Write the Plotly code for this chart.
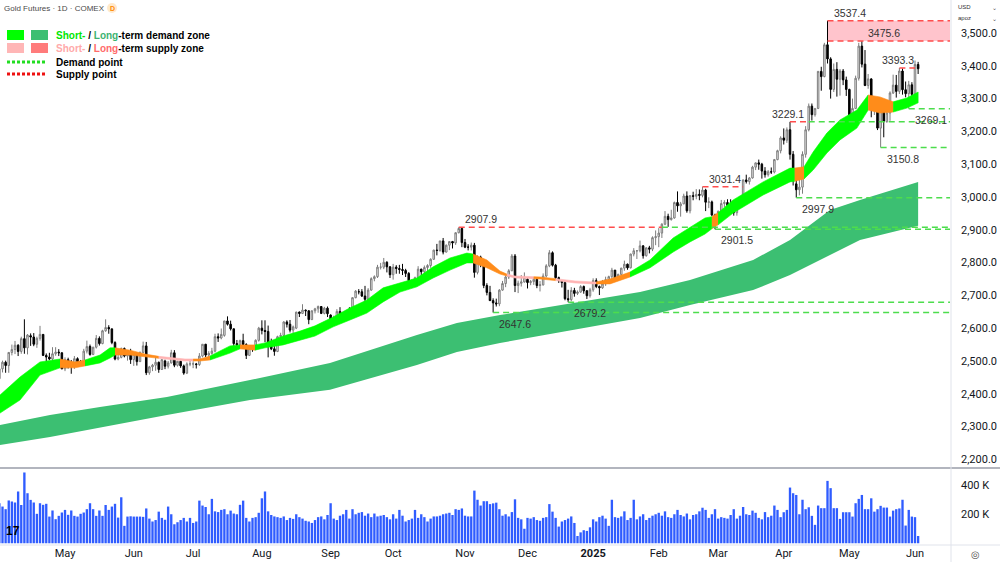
import plotly.graph_objects as go
import pandas as pd

# ---------------- categories (trading days) ----------------
HOLIDAYS = ["2024-05-27", "2024-06-19", "2024-07-04", "2024-09-02", "2024-11-28",
            "2024-12-25", "2025-01-01", "2025-01-20", "2025-02-17", "2025-04-18", "2025-05-26"]
dates = [d for d in pd.bdate_range("2024-04-01", "2025-06-03") if d.strftime("%Y-%m-%d") not in HOLIDAYS]

# ---------------- OHLC ----------------
open_ = [
    2426,2446,2476,2496,2486,2526,2535,2548,2529,2568,2540,2577,2573,2551,2569,2581,2517,2512,2506,2522,2527,2525,
    2476,2504,2487,2485,2507,2498,2493,2530,2544,2520,2542,2569,2553,2592,2602,2598,2556,2506,2511,2538,2515,2520,
    2504,2521,2498,2526,2546,2464,2482,2487,2496,2474,2500,2484,2494,2525,2487,2499,2485,2463,2491,
    2491,2491,2489,2515,2551,2518,2523,2530,2574,2570,2578,2622,2612,2598,2553,2549,2562,2550,2517,2539,2537,2563,
    2600,2593,2590,2557,2537,2529,2574,2578,2619,2612,2594,2600,2649,2645,2655,2653,2626,2653,2659,2666,2645,2661,
    2640,2628,2630,2651,2632,2641,2651,2647,2693,2711,2711,2698,2688,2716,2751,2757,2786,2786,2801,2787,
    2763,2786,2782,2779,2776,2767,2745,2731,2754,2780,2772,2785,2791,2810,2838,2837,2866,2832,2853,2864,2860,2891,2904,
    2861,2847,2847,2853,2770,2817,2796,2730,2709,2684,2677,2674,2716,2736,2756,2775,2820,2730,2737,2741,
    2749,2739,2742,2749,2730,2732,2759,2790,2830,2792,2754,2745,2739,2690,2687,2715,2706,2710,2727,2714,2699,
    2717,2745,2727,2723,2735,2748,2757,2777,2749,2764,2783,2795,2784,2826,2836,2836,2851,2821,2845,2841,2876,
    2879,2890,2917,2941,2931,2936,2983,2973,2979,3003,2958,3004,3002,3008,3005,3021,2984,2985,2945,
    2926,2956,2980,2983,2974,2973,2952,2979,2997,3052,3047,3058,3091,3104,3100,3079,3068,3077,3076,3114,3141,
    3180,3173,3205,3130,3040,3022,3030,3130,3205,3277,3251,3270,3383,3367,3464,3421,3328,3389,3359,3384,3357,
    3328,3250,3270,3362,3460,3405,3340,3360,3270,3282,3210,3268,3230,3256,3317,3341,3322,3384,3327,3315,3342,
    3313,3404]
high = [
    2462,2478,2501,2501,2526,2550,2561,2551,2574,2627,2582,2584,2585,2574,2607,2582,2523,2525,2542,2542,2536,2526,
    2511,2510,2503,2515,2511,2503,2537,2562,2550,2543,2579,2575,2595,2627,2609,2598,2560,2518,2541,2541,2528,2537,
    2525,2524,2529,2559,2558,2485,2491,2513,2498,2506,2504,2500,2534,2533,2500,2501,2489,2496,2504,
    2499,2494,2524,2551,2552,2530,2540,2583,2584,2599,2622,2636,2623,2599,2564,2565,2583,2554,2543,2545,2566,2604,
    2624,2624,2608,2568,2548,2577,2586,2621,2624,2625,2608,2650,2651,2673,2657,2655,2654,2662,2669,2667,2665,2666,
    2642,2638,2658,2664,2642,2653,2664,2694,2716,2719,2719,2729,2722,2755,2761,2793,2799,2814,2804,2789,
    2796,2792,2793,2796,2781,2771,2748,2757,2789,2781,2791,2795,2813,2839,2857,2866,2875,2855,2865,2866,2892,2907.9,2906,
    2872,2856,2861,2860,2822,2821,2797,2737,2729,2691,2690,2719,2744,2761,2780,2826,2826,2745,2762,2770,
    2755,2747,2756,2754,2744,2767,2795,2838,2834,2796,2757,2747,2743,2717,2725,2723,2715,2731,2730,2716,2723,
    2752,2752,2730,2747,2757,2760,2784,2777,2766,2784,2806,2797,2827,2844,2838,2867,2853,2846,2851,2880,2898,
    2905,2920,2957,2949,2961,2986,3017,2985,3010,3017,3006,3016,3024,3023,3031.4,3025,2999,2989,2949,
    2959,2991,2990,2993,2993,2977,2984,3003,3053,3068,3061,3095,3105,3114,3104,3091,3082,3090,3116,3144,3185,
    3209,3212,3229.1,3140,3065,3063,3139,3216,3285,3285,3270,3384,3397,3470,3537.4,3426,3407,3411,3390,3390,3367,
    3330,3300,3370,3470,3475.6,3448,3375,3362,3300,3288,3275,3280,3277,3322,3373,3372,3393.3,3392,3352,3354,3350,
    3416,3412]
low = [
    2424,2437,2465,2464,2464,2517,2521,2515,2522,2522,2520,2546,2545,2540,2562,2515,2481,2503,2497,2516,2515,2475,
    2469,2477,2461,2476,2490,2488,2490,2523,2516,2518,2538,2547,2551,2589,2583,2551,2502,2502,2508,2511,2501,2491,
    2485,2486,2497,2524,2457,2458,2469,2470,2464,2473,2475,2477,2492,2481,2483,2479,2458,2460,2484,
    2478,2477,2485,2511,2512,2510,2519,2526,2558,2566,2574,2608,2593,2546,2537,2538,2545,2506,2515,2528,2533,2559,
    2581,2557,2511,2533,2516,2527,2562,2572,2602,2587,2578,2597,2634,2643,2637,2612,2625,2645,2647,2643,2642,2634,
    2607,2611,2626,2620,2621,2635,2635,2646,2691,2703,2695,2675,2676,2714,2743,2753,2779,2780,2770,2753,
    2748,2766,2766,2762,2756,2727,2727,2726,2747,2761,2761,2771,2784,2809,2822,2833,2825,2831,2838,2843,2854,2889,2847,
    2844,2837,2837,2754,2764,2786,2722,2700,2683,2647.6,2666,2667,2714,2725,2750,2774,2710,2707,2727,2739,
    2721,2731,2732,2722,2712,2730,2755,2786,2788,2750,2738,2724,2685,2679.2,2682,2696,2701,2708,2705,2689,2693,
    2711,2722,2701,2720,2729,2742,2745,2743,2747,2757,2775,2778,2782,2819,2811,2831,2812,2818,2828,2835,2853,
    2847,2875,2914,2909,2928,2934,2955,2940,2978,2952,2950,2990,2993,2990,2999,2957,2966,2942,2901.5,
    2921,2943,2969,2957,2961,2943,2943,2968,2995,3041,3038,3056,3082,3083,3056,3059,3062,3070,3072,3112,3133,
    3160,3165,3114,3035,2997.9,3005,3010,3120,3200,3233,3245,3268,3324,3365,3407,3300,3320,3306,3309,3341,3308,
    3235,3243,3268,3355,3395,3338,3330,3243,3250,3204,3150.8,3182,3226,3232,3314,3303,3314,3312,3304,3269.1,3295,
    3310,3375]
close = [
    2446,2476,2496,2486,2526,2535,2548,2529,2568,2540,2579,2573,2551,2569,2581,2517,2512,2506,2522,2527,2525,2476,
    2504,2487,2485,2507,2498,2493,2530,2544,2520,2542,2569,2553,2592,2602,2598,2556,2506,2511,2538,2515,2520,2504,
    2521,2498,2526,2546,2464,2482,2487,2496,2474,2504,2484,2494,2525,2487,2499,2485,2463,2491,2491,
    2491,2489,2515,2551,2518,2523,2530,2574,2570,2581,2622,2612,2598,2553,2549,2562,2550,2517,2539,2537,2563,2600,
    2593,2590,2557,2537,2529,2574,2578,2619,2612,2594,2604,2649,2645,2655,2653,2626,2653,2659,2666,2645,2661,2644,
    2628,2630,2651,2632,2641,2651,2647,2693,2713,2711,2698,2688,2716,2751,2757,2786,2786,2801,2787,2763,
    2786,2782,2779,2776,2767,2745,2731,2754,2780,2772,2785,2791,2810,2838,2837,2866,2832,2853,2864,2860,2891,2904,2861,
    2847,2847,2853,2770,2817,2796,2730,2709,2684,2677,2674,2716,2736,2756,2775,2820,2730,2737,2741,2755,
    2739,2742,2749,2730,2732,2759,2790,2830,2792,2754,2745,2739,2690,2687,2715,2706,2710,2727,2714,2699,2717,
    2745,2727,2723,2735,2748,2757,2777,2749,2764,2783,2795,2784,2826,2836,2836,2851,2821,2845,2841,2876,2879,
    2890,2917,2941,2931,2936,2983,2973,2979,3003,2958,3004,3002,3008,3005,3021,2984,2985,2945,2926,
    2956,2980,2983,2974,2973,2952,2979,2997,3052,3047,3058,3091,3104,3100,3079,3068,3077,3076,3114,3141,3180,
    3173,3205,3130,3052,3022,3030,3130,3205,3277,3251,3270,3383,3367,3464,3421,3328,3389,3359,3384,3357,3328,
    3250,3270,3362,3460,3405,3340,3360,3270,3282,3210,3268,3230,3256,3317,3341,3322,3384,3327,3315,3342,3313,
    3404,3391]
volume_k = [
    260,276,253,235,295,288,281,357,264,488,345,299,281,203,276,265,272,184,226,166,189,212,
    230,196,226,189,184,203,212,235,276,235,189,226,189,264,230,253,272,177,317,120,184,186,
    184,184,184,182,240,170,150,160,218,175,162,253,200,131,145,160,175,150,175,
    140,150,294,260,250,200,306,220,215,230,235,200,225,205,200,265,294,175,150,175,180,210,
    310,357,220,195,185,180,175,185,160,175,168,200,180,170,155,150,140,160,180,185,165,195,
    276,170,160,190,200,230,170,235,200,210,215,190,205,180,205,185,190,195,180,165,
    200,170,230,190,150,160,170,230,175,200,180,150,170,185,185,190,200,205,210,195,235,230,240,
    190,185,185,363,300,260,290,290,270,275,280,235,190,200,185,215,303,175,165,100,
    175,170,180,160,155,175,180,270,218,175,115,150,160,170,185,140,50,75,90,85,110,
    165,150,180,190,170,120,300,180,175,185,220,160,175,300,165,185,200,160,175,190,200,
    210,190,220,180,175,200,230,195,185,205,165,195,200,220,245,230,175,200,235,
    170,180,175,170,195,235,170,190,250,200,195,225,210,175,165,215,180,190,260,230,180,
    214,230,384,345,333,200,300,235,248,189,127,260,242,242,430,380,242,242,168,214,214,
    214,184,276,306,333,235,235,310,218,235,258,246,246,184,225,235,240,300,122,230,184,
    180,50]

n = len(dates)
for arr in (open_, high, low, close, volume_k):
    assert len(arr) == n, (len(arr), n)
xi = list(range(n))

# ---------------- short-term demand zone (band edges) ----------------
st_idx = [1.2, 7.6, 14.0, 20.4, 25.2, 28.4, 33.2, 36.4, 38.0, 42.8, 47.6, 52.0, 54.0, 60.4, 63.0, 65.2,
          68.4, 74.8, 78.0, 82.8, 86.0, 91.8, 97.2, 102.0, 107.8, 113.2, 118.6, 123.8, 129.2, 134.6, 139.8,
          145.2, 150.6, 152.6, 157.0, 161.2, 163.4, 166.0, 172.0, 174.0, 179.0, 185.2, 191.0, 192.0, 196.4,
          202.8, 209.2, 216.6, 222.0, 226.8, 229.0, 231.0, 235.8, 245.4, 254.0, 255.5, 258.5, 261.4, 265.8,
          270.0, 275.4, 279.0, 282.8, 287.0, 291.4, 295.0]
st_top = [2396, 2451, 2497, 2506, 2497, 2503, 2518, 2540, 2540, 2533, 2521, 2514, 2512, 2506, 2506, 2506,
          2515, 2546, 2549, 2549, 2555, 2576, 2591, 2607, 2634, 2662, 2686, 2723, 2738, 2753, 2787,
          2814, 2829, 2826, 2808, 2774, 2765, 2759, 2757, 2756, 2751, 2744, 2741, 2741, 2750,
          2771, 2808, 2875, 2908, 2936, 2940, 2952, 2991, 3046, 3088, 3088, 3092, 3137, 3195,
          3235, 3265, 3311, 3305, 3290, 3302, 3320]
st_bot = [2341, 2381, 2457, 2479, 2479, 2485, 2494, 2509, 2518, 2518, 2512, 2508, 2506, 2500, 2500, 2500,
          2503, 2524, 2537, 2533, 2540, 2549, 2564, 2576, 2604, 2625, 2646, 2680, 2710, 2726, 2753,
          2777, 2799, 2799, 2784, 2765, 2759, 2753, 2751, 2750, 2745, 2738, 2735, 2735, 2735,
          2756, 2784, 2832, 2863, 2887, 2903, 2915, 2951, 3006, 3046, 3048, 3055, 3082, 3134,
          3174, 3210, 3265, 3256, 3259, 3271, 3287]
# state of each interval between consecutive samples: G=demand, O=price inside, P=supply
st_state = "GGGOOGGGOOOPPPOOGGOGGGGGGGGGGGGGGOOOPPOOPPPOOGGGGGOGGGGOGGGGGOOGG"

# ---------------- long-term demand zone ----------------
lt_idx = [1.2, 17.2, 33.2, 54.6, 81.2, 106.8, 134.6, 147.4, 161.2, 184.6, 206.0, 222.0, 242.2, 254.0, 266.8, 276.4, 295.0]
lt_top = [2305, 2335, 2360, 2390, 2442, 2494, 2579, 2616, 2640, 2677, 2710, 2747, 2808, 2869, 2960, 2991, 3046]
lt_bot = [2244, 2268, 2296, 2335, 2381, 2412, 2488, 2527, 2555, 2594, 2631, 2671, 2716, 2762, 2823, 2869, 2912]

# ---------------- demand / supply points ----------------
pt_level = [2907.9, 2647.6, 2679.2, 3031.4, 2901.5, 3229.1, 2997.9, 3537.4, 3475.6, 3393.3, 3150.8, 3269.1]
pt_bar = [148, 159, 183, 226, 230, 254, 256, 266, 277, 289, 283, 292]
pt_kind = ["S", "D", "D", "S", "D", "S", "D", "Z", "Z", "S", "D", "D"]

month_names = {1: "2025", 2: "Feb", 3: "Mar", 4: "Apr", 5: "May", 6: "Jun", 7: "Jul", 8: "Aug",
               9: "Sep", 10: "Oct", 11: "Nov", 12: "Dec"}
price_ticks = [2200, 2300, 2400, 2500, 2600, 2700, 2800, 2900, 3000, 3100, 3200, 3300, 3400, 3500]
vol_ticks = [200, 400]

# ---------------- styling ----------------
X_RANGE = [1.2, 305.2]
Y_RANGE = [2176.7, 3600.6]
V_RANGE = [-12, 512]
PW, PH = 950.0, 545.0
C_SHORT = "#00ff00"
C_LONG = "#3cbf72"
C_ORANGE = "#ff8c1a"
C_PINK = "#ffb3b3"
C_DEM = "#4ddd4d"
C_SUP = "#ff4d4d"
ZONE_COL = {"G": C_SHORT, "O": C_ORANGE, "P": C_PINK}
LBL_FONT = dict(family="Liberation Sans, Arial, sans-serif", size=10.5, color="#333333")


def px(x):
    return x / PW


def py(y):
    return 1 - y / PH


fig = go.Figure()

# long-term band
fig.add_trace(go.Scatter(x=lt_idx + lt_idx[::-1], y=lt_top + lt_bot[::-1], fill="toself",
                         fillcolor=C_LONG, line=dict(width=0), mode="lines", hoverinfo="skip",
                         showlegend=False, xaxis="x", yaxis="y"))

# short-term band, coloured runs
start = 0
for i in range(1, len(st_state) + 1):
    if i == len(st_state) or st_state[i] != st_state[start]:
        xs = st_idx[start:i + 1]
        tops = st_top[start:i + 1]
        bots = st_bot[start:i + 1]
        col = ZONE_COL[st_state[start]]
        fig.add_trace(go.Scatter(x=xs + xs[::-1], y=tops + bots[::-1], fill="toself", fillcolor=col,
                                 line=dict(width=0.6, color=col), mode="lines", hoverinfo="skip",
                                 showlegend=False, xaxis="x", yaxis="y"))
        start = i

# candles
fig.add_trace(go.Candlestick(x=xi, open=open_, high=high, low=low, close=close,
                             increasing=dict(line=dict(color="#7d7d7d", width=1), fillcolor="#eeeeee"),
                             decreasing=dict(line=dict(color="#000000", width=1), fillcolor="#000000"),
                             whiskerwidth=0, hoverinfo="skip", showlegend=False, xaxis="x", yaxis="y"))

# volume
fig.add_trace(go.Bar(x=xi, y=volume_k, marker=dict(color="#2f5cff", line=dict(width=0)),
                     hoverinfo="skip", showlegend=False, xaxis="x2", yaxis="y2"))

shapes = []
annotations = []


def first_above(level, s):
    for j in range(s + 1, n):
        if high[j] > level:
            return j
    return None


def hline(x0, x1, y, color):
    shapes.append(dict(type="line", xref="x", yref="y", x0=x0, x1=x1, y0=y, y1=y,
                       line=dict(color=color, width=1.5, dash="6px,4px"), layer="above"))


# supply zone rectangle
z_top = pt_level[pt_kind.index("Z")]
z_bot = pt_level[len(pt_kind) - 1 - pt_kind[::-1].index("Z")]
z_start = pt_bar[pt_kind.index("Z")]
shapes.append(dict(type="rect", xref="x", yref="y", x0=z_start, x1=X_RANGE[1], y0=z_bot, y1=z_top,
                   fillcolor="#ffc4cc", line=dict(width=0), layer="below"))
hline(z_start, X_RANGE[1], z_top, C_SUP)
hline(z_start, X_RANGE[1], z_bot, C_SUP)

for lvl, b, k in zip(pt_level, pt_bar, pt_kind):
    if k == "D":
        hline(b, X_RANGE[1], lvl, C_DEM)
    elif k == "S":
        j = first_above(lvl, b)
        end = j if j is not None else X_RANGE[1]
        hline(b, end, lvl, C_SUP)
        if j is not None and lvl < 3300 and lvl != 3031.4:
            hline(j, X_RANGE[1], lvl, C_DEM)

# value labels
center_labels = {3229.1, 3393.3}
for lvl, b, k in zip(pt_level, pt_bar, pt_kind):
    above = k in ("S", "Z")
    if lvl in center_labels:
        xa, xx = "center", b - 0.5
    else:
        xa, xx = "left", b + 1.3
    annotations.append(dict(x=xx, y=lvl, xref="x", yref="y", text=f"{lvl:.1f}", showarrow=False,
                            xanchor=xa, yanchor="bottom" if above else "top",
                            yshift=0 if above else -3, font=LBL_FONT))

# pane separators / frame lines
shapes.append(dict(type="line", xref="paper", yref="paper", x0=0, x1=px(1000), y0=py(468), y1=py(468),
                   line=dict(color="#b2b5be", width=2)))
shapes.append(dict(type="line", xref="paper", yref="paper", x0=px(951), x1=px(951), y0=py(562), y1=1,
                   line=dict(color="#e0e3eb", width=1)))
shapes.append(dict(type="line", xref="paper", yref="paper", x0=0, x1=px(1000), y0=py(545), y1=py(545),
                   line=dict(color="#e0e3eb", width=1)))


# legend block
def rect(x0, y0, x1, y1, col):
    shapes.append(dict(type="rect", xref="paper", yref="paper", x0=px(x0), x1=px(x1), y0=py(y1), y1=py(y0),
                       fillcolor=col, line=dict(width=0)))


rect(7, 30, 24, 40, C_SHORT)
rect(31, 30, 48, 40, C_LONG)
rect(7, 43, 24, 53, "#ffb6b6")
rect(31, 43, 48, 53, "#ff7b7b")
shapes.append(dict(type="line", xref="paper", yref="paper", x0=px(7), x1=px(45), y0=py(62), y1=py(62),
                   line=dict(color="#22dd22", width=3, dash="3px,2px")))
shapes.append(dict(type="line", xref="paper", yref="paper", x0=px(7), x1=px(45), y0=py(74), y1=py(74),
                   line=dict(color="#ee1111", width=3, dash="3px,2px")))


def text_at(x, y, txt, font, xanchor="left"):
    annotations.append(dict(x=px(x), y=py(y), xref="paper", yref="paper", text=txt, showarrow=False,
                            xanchor=xanchor, yanchor="middle", font=font))


LEG_FONT = dict(family="Liberation Sans, Arial, sans-serif", size=10, color="#000000")
legend_rows = [
    (35, '<b><span style="color:#00e600">Short-</span> / <span style="color:#3cb371">Long</span>-term demand zone</b>'),
    (48, '<b><span style="color:#ffaaaa">Short-</span> / <span style="color:#ff6b6b">Long</span>-term supply zone</b>'),
    (62, "<b>Demand point</b>"),
    (74, "<b>Supply point</b>"),
]
for yy, txt in legend_rows:
    text_at(54, yy, txt, LEG_FONT)

text_at(2, 8, "Gold Futures · 1D · COMEX", dict(family="Liberation Sans, Arial", size=8, color="#4a4a4a"))
shapes.append(dict(type="circle", xref="paper", yref="paper", x0=px(107), x1=px(117), y0=py(13), y1=py(3),
                   fillcolor="#ffe9cc", line=dict(width=0)))
text_at(112, 8, "<b>D</b>", dict(family="Liberation Sans, Arial", size=7, color="#ff8a00"), "center")
text_at(956, 7, "USD", dict(family="Liberation Sans", size=6, color="#333"))
text_at(956, 18, "apoz", dict(family="Liberation Sans", size=6, color="#333"))
text_at(994, 7, "⌄", dict(family="DejaVu Sans", size=6, color="#555"), "center")
text_at(994, 18, "⌄", dict(family="DejaVu Sans", size=6, color="#555"), "center")
text_at(976, 555, "◎", dict(family="DejaVu Sans", size=10, color="#555"), "center")
text_at(13, 531, "<b>17</b>", dict(family="Liberation Sans, Arial", size=12, color="#000"), "center")

# month ticks
tick_pos, tick_txt = [], []
for i, d in enumerate(dates):
    if i > 0 and d.month != dates[i - 1].month:
        tick_pos.append(i)
        tick_txt.append("<b>2025</b>" if d.month == 1 else month_names[d.month])

AX_FONT = dict(family="Roboto, sans-serif", size=11, color="#131722")
fig.update_layout(
    width=1000, height=562, margin=dict(l=0, r=50, t=0, b=17),
    paper_bgcolor="white", plot_bgcolor="white", showlegend=False, bargap=0.25,
    xaxis=dict(domain=[0, 1], range=X_RANGE, anchor="y", showticklabels=False, showgrid=False,
               zeroline=False, rangeslider=dict(visible=False), fixedrange=True),
    xaxis2=dict(domain=[0, 1], range=X_RANGE, anchor="y2", tickvals=tick_pos, ticktext=tick_txt,
                showgrid=False, zeroline=False, ticks="", tickfont=AX_FONT, fixedrange=True),
    yaxis=dict(domain=[py(467), 1], range=Y_RANGE, side="right", tickvals=price_ticks,
               ticktext=[f"{v:,.1f}" for v in price_ticks], showgrid=False, zeroline=False, ticks="",
               tickfont=AX_FONT, ticklabelstandoff=10, fixedrange=True),
    yaxis2=dict(domain=[0, py(469)], range=V_RANGE, side="right", tickvals=vol_ticks,
                ticktext=[f"{v} K" for v in vol_ticks], showgrid=False, zeroline=False, ticks="",
                tickfont=AX_FONT, ticklabelstandoff=10, fixedrange=True),
    shapes=shapes, annotations=annotations,
)

fig.write_html("out.html")
